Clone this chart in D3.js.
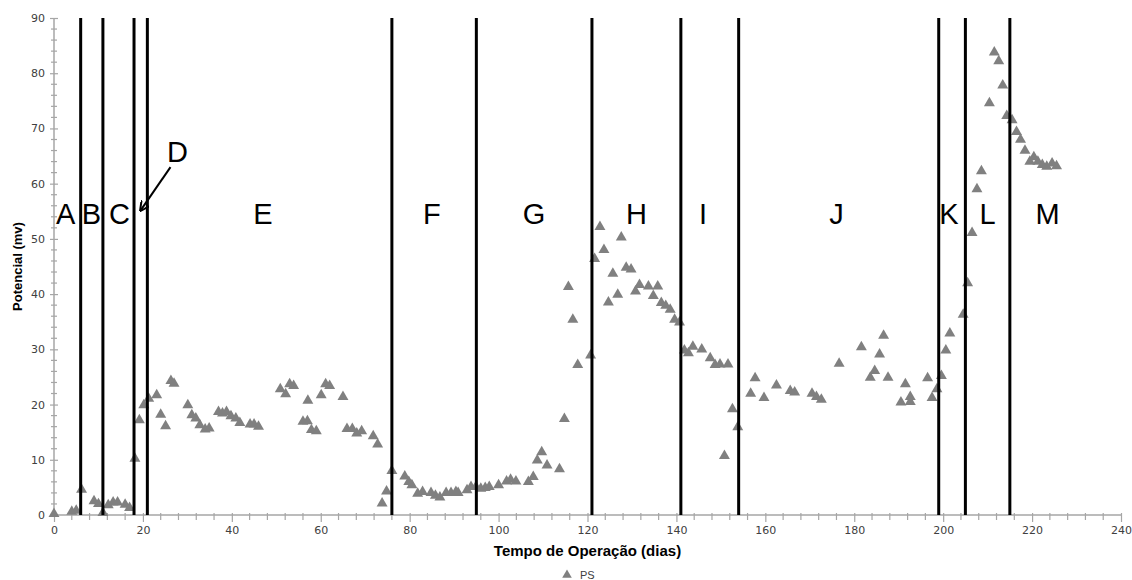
<!DOCTYPE html>
<html>
<head>
<meta charset="utf-8">
<script src="https://cdn.jsdelivr.net/npm/d3@7"></script>
<style>
  body { margin: 0; background: #fff; }
  svg { display: block; }
</style>
</head>
<body>
<div id="chart"></div>
<script>
const WIDTH = 1132
const HEIGHT = 580
const margin = { top: 18, right: 11, bottom: 65, left: 54 }

// dias de operação e potencial (mV) - série PS
const days = [0, 4, 5, 6.2, 9, 10, 11, 12.2, 13.3, 14.3, 16, 17, 18.2, 19.2, 20.2, 21.3, 23.1, 24, 25.1, 26.3, 27,
  30.1, 31, 31.9, 32.8, 34, 34.9, 37, 37.9, 38.8, 39.8, 40.9, 41.8, 44.1, 45, 46, 50.9, 52.1, 53, 53.9,
  56, 57, 57.1, 57.9, 59, 60.1, 61.1, 62, 65, 65.9, 67.1, 68.1, 69.2, 71.8, 72.8, 73.8, 74.8, 76,
  78.9, 79.8, 80.5, 81.8, 82.9, 84.8, 85.8, 86.8, 88.2, 89.3, 90.4, 90.9, 92.9, 93.8, 94.9, 96, 97, 97.9,
  100, 101.8, 102.7, 103.9, 106.7, 107.8, 108.7, 109.7, 110.9, 113.7, 114.8, 115.7, 116.7, 117.8, 120.7,
  121.6, 122.8, 123.7, 124.7, 125.7, 126.8, 127.6, 128.7, 129.8, 130.8, 131.7, 133.7, 134.8, 135.8, 136.6,
  137.6, 138.6, 139.6, 140.7, 141.8, 142.7, 143.7, 145.7, 147.6, 148.7, 149.8, 150.8, 151.6, 152.6, 153.8,
  156.7, 157.7, 159.7, 162.5, 165.6, 166.6, 170.5, 171.5, 172.6, 176.6, 181.6, 183.6, 184.6, 185.7, 186.6,
  187.6, 190.5, 191.5, 192.6, 192.6, 196.5, 197.5, 198.6, 199.6, 200.6, 201.5, 204.5, 205.5, 206.5, 207.6,
  208.6, 210.4, 211.5, 212.5, 213.4, 214.3, 215.5, 216.5, 217.4, 218.4, 219.5, 220.4, 221.3, 222.3, 223.3,
  224.5, 225.5]
const potencial = [0.2, 0.6, 0.8, 4.6, 2.5, 2.0, 0.4, 1.8, 2.3, 2.3, 1.9, 1.3, 10.2, 17.2, 19.9, 21.1, 21.7, 18.2, 16.1, 24.3, 23.8,
  19.9, 18.1, 17.5, 16.3, 15.5, 15.7, 18.7, 18.4, 18.7, 17.9, 17.5, 16.7, 16.4, 16.4, 16.0, 22.8, 21.9, 23.7, 23.4,
  16.9, 17.0, 20.7, 15.4, 15.2, 21.7, 23.7, 23.4, 21.4, 15.6, 15.6, 14.8, 15.2, 14.3, 12.8, 2.1, 4.3, 8.0,
  7.0, 6.0, 5.4, 3.9, 4.2, 4.0, 3.5, 3.2, 4.0, 4.0, 4.2, 4.0, 4.5, 5.1, 5.1, 4.8, 4.9, 5.1,
  5.4, 6.1, 6.4, 6.1, 6.0, 6.9, 9.9, 11.4, 9.0, 8.3, 17.4, 41.3, 35.4, 27.2, 28.9,
  46.4, 52.2, 48.0, 38.5, 43.7, 39.9, 50.3, 44.8, 44.5, 40.5, 41.7, 41.4, 39.7, 41.4, 38.4,
  37.9, 37.2, 35.4, 34.9, 29.8, 29.3, 30.5, 30.0, 28.4, 27.2, 27.3, 10.7, 27.3, 19.2, 15.9,
  22.0, 24.8, 21.2, 23.5, 22.5, 22.2, 22.0, 21.4, 20.9, 27.4, 30.4, 24.9, 26.1, 29.1, 32.5,
  24.9, 20.4, 23.7, 21.4, 20.5, 24.8, 21.2, 22.8, 25.2, 29.8, 32.9, 36.3, 42.0, 51.1, 59.0,
  62.3, 74.6, 83.8, 82.2, 77.8, 72.3, 71.5, 69.4, 68.0, 66.0, 64.0, 64.8, 64.0, 63.4, 63.1,
  63.7, 63.2]

// limites entre as fases
const phaseLines = [6, 11, 18, 21, 76, 95, 121, 141, 154, 199, 205, 215]
const phaseNames = ['A', 'B', 'C', 'E', 'F', 'G', 'H', 'I', 'J', 'K', 'L', 'M']
const phaseLabelX = [2.6, 8.4, 14.7, 47, 85, 108, 131, 146, 176, 201.3, 210, 223.5]

const xTicks = d3.range(0, 241, 20)
const yTicks = d3.range(0, 91, 10)

const data = days.map((d, i) => ({ x: d, y: potencial[i] }))

const svg = d3.select('#chart').append('svg')
  .attr('width', WIDTH)
  .attr('height', HEIGHT)

const x = d3.scaleLinear().domain([0, 240]).range([margin.left, WIDTH - margin.right])
const y = d3.scaleLinear().domain([0, 90]).range([HEIGHT - margin.bottom, margin.top])

const axisColor = '#a6a6a6'
const tickFont = '"DejaVu Sans", Verdana, sans-serif'

// eixo y
const yAxis = svg.append('g')
  .attr('transform', `translate(${x(0)},0)`)
  .call(d3.axisLeft(y).tickValues(yTicks).tickSize(4).tickPadding(5))
yAxis.selectAll('.tick line').attr('x2', -4).attr('x1', 4)
yAxis.append('g').selectAll('line')
  .data(d3.range(0, 91, 2).filter(v => v % 10))
  .enter().append('line')
  .attr('x1', -3).attr('x2', 3)
  .attr('y1', d => y(d)).attr('y2', d => y(d))

// eixo x
const xAxis = svg.append('g')
  .attr('transform', `translate(0,${y(0)})`)
  .call(d3.axisBottom(x).tickValues(xTicks).tickSize(7).tickPadding(4))
xAxis.selectAll('.tick line').attr('y1', -2)
xAxis.append('g').selectAll('line')
  .data(d3.range(0, 241, 4).filter(v => v % 20))
  .enter().append('line')
  .attr('y1', -2).attr('y2', 5)
  .attr('x1', d => x(d)).attr('x2', d => x(d))

// sem os "ganchos" nas pontas
yAxis.select('.domain').attr('d', `M0,${y(90)}V${y(0)}`)
xAxis.select('.domain').attr('d', `M${x(0)},0H${x(240)}`)

svg.selectAll('.domain').attr('stroke', axisColor).attr('stroke-width', 1.5)
svg.selectAll('line').attr('stroke', axisColor).attr('stroke-width', 1.2)
svg.selectAll('.tick text')
  .attr('font-family', tickFont)
  .attr('font-size', 11)
  .attr('fill', '#404040')

// pontos
const tri = d3.symbol().type(d3.symbolTriangle).size(52)
svg.append('g').selectAll('path')
  .data(data)
  .enter().append('path')
  .attr('d', tri)
  .attr('transform', d => `translate(${x(d.x)},${y(d.y)})`)
  .attr('fill', '#808080')

// linhas das fases
svg.append('g').selectAll('line')
  .data(phaseLines)
  .enter().append('line')
  .attr('x1', d => x(d)).attr('x2', d => x(d))
  .attr('y1', y(90)).attr('y2', y(0))
  .attr('stroke', '#000')
  .attr('stroke-width', 3)

// rótulos das fases
svg.append('g').selectAll('text')
  .data(phaseNames)
  .enter().append('text')
  .attr('x', (d, i) => x(phaseLabelX[i]))
  .attr('y', y(54.6))
  .attr('dy', '0.36em')
  .attr('text-anchor', 'middle')
  .attr('font-family', '"Liberation Sans", Arial, sans-serif')
  .attr('font-size', 29)
  .attr('fill', '#000')
  .text(d => d)

// D com seta
svg.append('defs').append('marker')
  .attr('id', 'arrow')
  .attr('viewBox', '0 0 10 10')
  .attr('refX', 8).attr('refY', 5)
  .attr('markerWidth', 5).attr('markerHeight', 5)
  .attr('orient', 'auto')
  .append('path')
  .attr('d', 'M0,0L10,5L0,10')
  .attr('fill', 'none')
  .attr('stroke', '#000')
  .attr('stroke-width', 2)

svg.append('text')
  .attr('x', x(27.8))
  .attr('y', y(65.8))
  .attr('dy', '0.36em')
  .attr('text-anchor', 'middle')
  .attr('font-family', '"Liberation Sans", Arial, sans-serif')
  .attr('font-size', 29)
  .text('D')

svg.append('line')
  .attr('x1', x(26.2)).attr('y1', y(63))
  .attr('x2', x(19.6)).attr('y2', y(55.3))
  .attr('stroke', '#000')
  .attr('stroke-width', 2)
  .attr('marker-end', 'url(#arrow)')

// títulos dos eixos
svg.append('text')
  .attr('x', (x(0) + x(240)) / 2)
  .attr('y', 556)
  .attr('text-anchor', 'middle')
  .attr('font-family', '"Liberation Sans", Arial, sans-serif')
  .attr('font-weight', 'bold')
  .attr('font-size', 15)
  .attr('fill', '#000')
  .text('Tempo de Operação (dias)')

svg.append('text')
  .attr('transform', `translate(22,${(y(0) + y(90)) / 2}) rotate(-90)`)
  .attr('text-anchor', 'middle')
  .attr('font-family', '"Liberation Sans", Arial, sans-serif')
  .attr('font-weight', 'bold')
  .attr('font-size', 13)
  .attr('fill', '#000')
  .text('Potencial (mv)')

// legenda
const legend = svg.append('g').attr('transform', 'translate(567,575)')
legend.append('path').attr('d', d3.symbol().type(d3.symbolTriangle).size(40)).attr('fill', '#808080')
legend.append('text')
  .attr('x', 13).attr('y', 4)
  .attr('font-family', '"Liberation Sans", Arial, sans-serif')
  .attr('font-size', 11)
  .attr('fill', '#404040')
  .text('PS')
</script>
</body>
</html>
